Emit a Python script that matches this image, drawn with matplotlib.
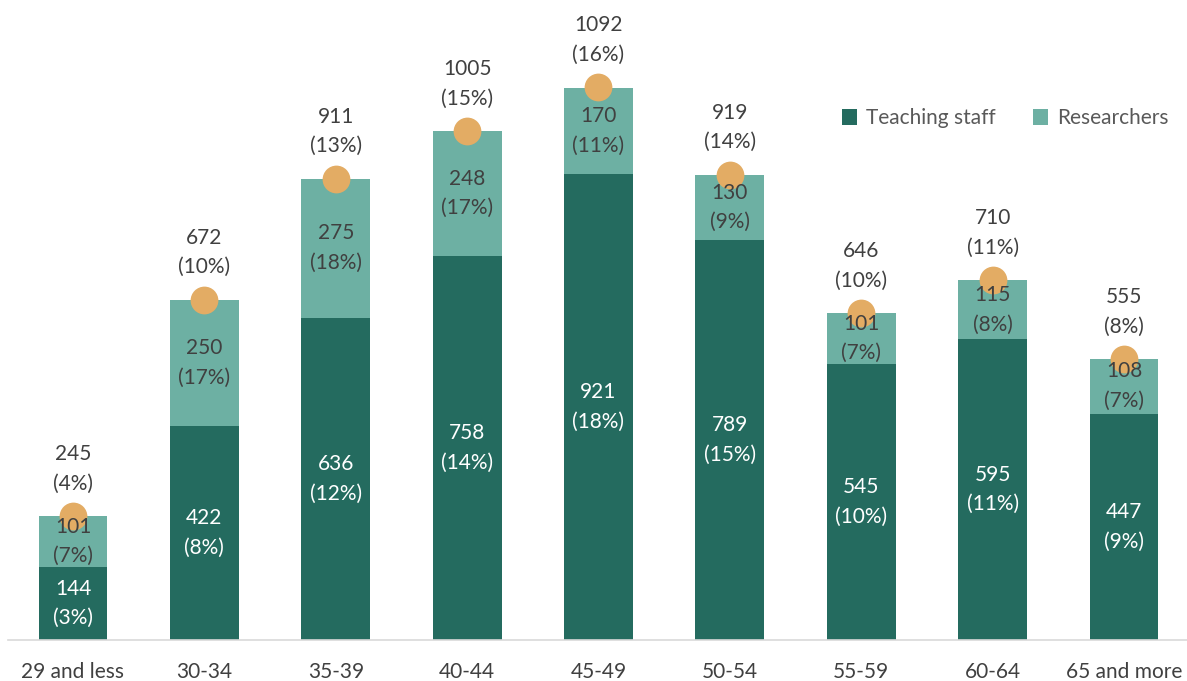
import matplotlib
matplotlib.use("Agg")
import matplotlib.pyplot as plt
import numpy as np

categories = ["29 and less", "30-34", "35-39", "40-44", "45-49", "50-54", "55-59", "60-64", "65 and more"]
teaching = [144, 422, 636, 758, 921, 789, 545, 595, 447]
teaching_pct = ["3%", "8%", "12%", "14%", "18%", "15%", "10%", "11%", "9%"]
researchers = [101, 250, 275, 248, 170, 130, 101, 115, 108]
researchers_pct = ["7%", "17%", "18%", "17%", "11%", "9%", "7%", "8%", "7%"]
totals = [245, 672, 911, 1005, 1092, 919, 646, 710, 555]
totals_pct = ["4%", "10%", "13%", "15%", "16%", "14%", "10%", "11%", "8%"]

dark = "#246B5F"
light = "#6DB0A3"
orange = "#E3AC64"
txt = "#404040"

plt.rcParams['font.family'] = ['Lato', 'DejaVu Sans']

W, H = 1187, 681
fig = plt.figure(figsize=(W / 100, H / 100), dpi=100)
ax = fig.add_axes([8 / W, 41 / H, (W - 8) / W, 640 / H])

x = np.arange(len(categories))
w = 0.525
ax.bar(x, teaching, w, color=dark, label="Teaching staff", zorder=2)
ax.bar(x, researchers, w, bottom=teaching, color=light, label="Researchers", zorder=2)
ax.plot(x, totals, 'o', color=orange, markersize=20, markeredgewidth=0, zorder=3)

fs = 15
ls = 1.6
for i in range(len(x)):
    yc = teaching[i] / 2
    ax.text(x[i], yc, f"{teaching[i]}\n({teaching_pct[i]})", ha="center", va="center",
            color="white", fontsize=fs, linespacing=ls, zorder=4)
    yr = teaching[i] + researchers[i] / 2
    ax.text(x[i], yr, f"{researchers[i]}\n({researchers_pct[i]})", ha="center", va="center",
            color=txt, fontsize=fs, linespacing=ls, zorder=4)
    ax.annotate(f"{totals[i]}\n({totals_pct[i]})", (x[i], totals[i]), xytext=(0, 34),
                textcoords="offset points", ha="center", va="center", color=txt,
                fontsize=fs, linespacing=ls, zorder=4)

ax.set_xlim(-65 / 131.4, 8 + (1187 - 1124) / 131.4)
ax.set_ylim(0, 640 / 0.5064)
for s in ["top", "right", "left"]:
    ax.spines[s].set_visible(False)
ax.spines["bottom"].set_color("#D9D9D9")
ax.spines["bottom"].set_linewidth(1.2)
ax.set_yticks([])
ax.set_xticks(x)
ax.set_xticklabels(categories, fontsize=fs, color=txt)
ax.tick_params(axis="x", length=0, pad=16)

leg = ax.legend(loc="upper right", bbox_to_anchor=(1.0, 0.86), ncol=2, frameon=False,
                fontsize=fs, handlelength=0.75, handleheight=0.75, handletextpad=0.4,
                columnspacing=1.8)
for t in leg.get_texts():
    t.set_color("#595959")

fig.savefig("out.png", dpi=100)
